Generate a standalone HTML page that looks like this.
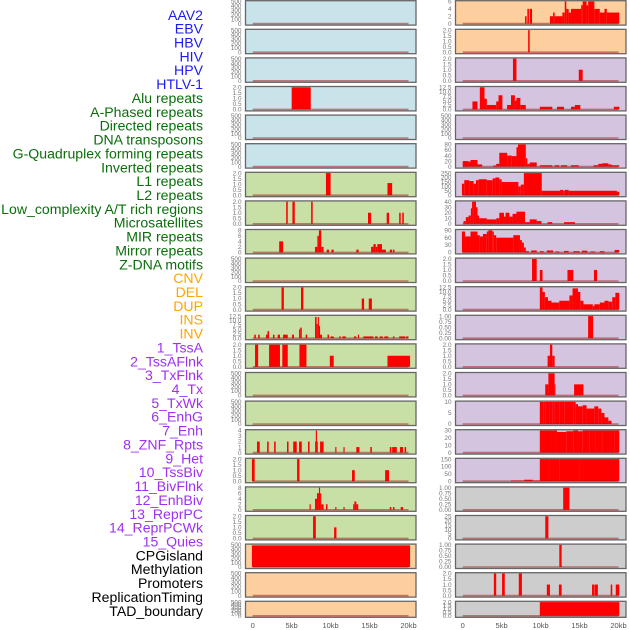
<!DOCTYPE html>
<html><head><meta charset="utf-8"><style>
body{margin:0;background:#fff;}
svg{display:block;font-family:"Liberation Sans",sans-serif;}
</style></head><body>
<svg id="chart" width="630" height="630" viewBox="0 0 630 630" xmlns="http://www.w3.org/2000/svg"></svg>
<script>
// ---------- labels ----------
const labelNames = ["AAV2","EBV","HBV","HIV","HPV","HTLV-1","Alu repeats","A-Phased repeats","Directed repeats","DNA transposons","G-Quadruplex forming repeats","Inverted repeats","L1 repeats","L2 repeats","Low_complexity A/T rich regions","Microsatellites","MIR repeats","Mirror repeats","Z-DNA motifs","CNV","DEL","DUP","INS","INV","1_TssA","2_TssAFlnk","3_TxFlnk","4_Tx","5_TxWk","6_EnhG","7_Enh","8_ZNF_Rpts","9_Het","10_TssBiv","11_BivFlnk","12_EnhBiv","13_ReprPC","14_ReprPCWk","15_Quies","CPGisland","Methylation","Promoters","ReplicationTiming","TAD_boundary"];
const labelGroups = [6,13,5,15,5];
const groupColors = ["#1c1cf0","#0b6e0b","#ffa500","#a030f0","#000000"];

// ---------- tick sets ----------
const T500 = [0,100,200,300,400,500];
const T2 = [0,0.5,1,1.5,2];
const T12 = [0,2.5,5,7.5,10,12.5];
const T1 = [0,0.25,0.5,0.75,1];
const T8 = [0,2,4,6,8];

// ---------- left column data [startKb, endKb, value] ----------
const L0=[],L1=[],L2=[],L4=[],L5=[],L9=[],L13=[],L14=[],L20=[],L21=[];
const L3=[[5.0,7.45,2]];
const L6=[[9.4,10.0,2],[17.3,17.9,1.1]];
const L7=[[4.3,4.5,2],[5.1,5.4,2],[7.5,7.7,2],[14.8,15.2,1],[17.2,17.5,1],[18.8,19.0,1],[19.2,19.4,1]];
const L8=[[3.4,3.9,4],[8.0,8.3,2],[8.3,8.5,6],[8.5,8.8,8],[8.8,9.1,2],[9.5,9.8,1],[10.1,10.4,1],[13.3,13.6,1],[15.2,15.5,2],[15.5,15.8,3],[15.8,16.0,2],[16.0,16.6,3],[16.6,17.1,1],[17.6,17.9,1],[18.0,18.2,1]];
const L10=[[3.7,4.0,2],[6.2,6.5,2],[14.0,14.3,1],[14.9,15.3,1]];
const L11=[[0.2,0.4,2],[0.7,0.9,2],[1.7,1.9,2],[1.9,2.1,4],[2.6,2.8,2],[3.2,3.5,2],[3.9,4.5,2],[5.05,5.3,2],[5.95,6.1,5],[6.1,6.3,6],[6.8,7.0,2],[8.0,8.2,12],[8.2,8.35,8],[8.35,8.5,12],[8.5,8.65,7],[8.65,8.9,2],[9.6,9.8,2],[10.0,10.4,1],[11.1,11.3,1],[11.5,11.95,1],[13.0,13.3,1],[13.5,13.65,2],[14.2,15.5,1],[15.7,16.05,1],[16.3,16.7,1],[16.9,17.4,1],[18.0,18.2,1],[18.8,19.6,1],[19.7,20.0,1]];
const L12=[[0.3,0.7,2],[2.1,3.5,2],[3.8,4.5,2],[6.0,6.9,2],[9.9,10.4,1],[17.3,20.2,1]];
const L15=[[0.55,0.9,2],[1.85,2.05,2],[2.75,2.95,2],[4.4,4.6,2],[5.2,5.65,2],[5.95,6.3,2],[7.1,7.3,2],[8.0,8.1,2],[8.1,8.25,4],[8.25,8.35,2],[8.65,9.1,2],[10.6,10.75,1],[11.65,11.8,1],[13.3,13.7,1],[15.1,15.3,1],[17.6,17.8,1],[17.9,18.5,1],[18.9,19.3,1],[19.5,19.7,1]];
const L16=[[-0.1,0.25,2],[5.7,6.0,2],[12.75,13.1,1],[17.0,17.5,1]];
const L17=[[7.3,7.45,2],[8.0,8.25,4],[8.25,8.5,6],[8.5,8.65,8],[8.65,8.8,6],[8.8,9.1,2],[9.4,9.6,2],[10.6,10.75,1],[11.65,11.8,1],[12.9,13.05,2],[13.05,13.3,3],[13.3,13.55,2],[17.6,17.8,1],[18.0,18.2,1],[19.0,19.3,1]];
const L18=[[7.75,8.1,2],[10.45,10.75,1]];
const L19=[[-0.1,20.2,490]];

// ---------- right column data ----------
const R4=[];
const R0=[[8.0,8.2,2],[8.3,8.5,4],[8.6,8.9,4],[11.2,11.6,2],[11.6,11.8,3],[11.8,12.8,2],[12.8,13.1,3],[13.1,13.3,6],[13.3,13.6,4],[13.6,13.9,3],[13.9,15.2,4],[15.2,15.4,5],[15.4,15.9,6],[15.9,16.1,5],[16.1,16.9,6],[16.9,17.6,4],[17.6,18.2,3],[18.2,18.5,4],[18.5,20.1,3]];
const R1=[[8.4,8.6,2]];
const R2=[[6.45,6.9,2],[14.9,15.4,1]];
const R3=[[1.25,1.9,4.5],[2.2,2.8,12.5],[2.8,3.1,6],[3.1,4.3,2.5],[4.3,4.6,4.5],[4.6,5.1,8],[5.7,6.2,2.5],[6.2,6.7,8],[6.7,6.9,5],[6.9,7.4,6.5],[7.4,8.1,2.5],[9.9,11.5,1.5],[12.1,13.0,1.5],[13.9,14.4,1.5],[14.4,15.1,2.5],[19.4,20.1,1.5]];
const R5=[[0,0.75,20],[0.75,1.0,18],[1.0,1.9,24],[1.9,2.5,8],[3.9,4.3,4],[4.3,4.7,10],[4.7,5.7,50],[5.7,6.3,40],[6.3,6.9,38],[6.9,7.1,70],[7.1,8.1,80],[8.1,8.3,30],[8.3,8.6,10],[8.6,9.5,15],[9.9,11.5,5],[11.8,12.4,5],[12.6,13.4,5],[13.9,14.9,5],[16.8,17.4,5],[17.4,17.9,10],[17.9,18.7,12],[18.7,19.1,8],[19.1,20.1,5]];
const R6=[[-0.1,0.2,130],[0.2,0.85,170],[0.85,1.4,160],[1.4,1.7,130],[1.7,2.05,170],[2.05,3.1,180],[3.1,3.85,170],[3.85,4.2,190],[4.2,4.7,200],[4.7,5.0,180],[5.0,7.15,150],[7.15,7.45,100],[7.45,7.85,120],[7.85,10.15,250],[10.15,12.5,50],[12.5,12.9,60],[12.9,13.1,50],[13.1,13.6,60],[13.6,19.8,50],[19.8,20.1,40]];
const R7=[[0.1,0.4,5],[0.4,0.75,12],[0.75,1.05,15],[1.05,1.2,28],[1.2,1.4,40],[1.4,1.7,42],[1.7,1.9,30],[1.9,2.1,15],[2.1,3.1,10],[3.1,4.3,8],[4.3,4.7,10],[4.7,5.3,20],[5.3,5.5,13],[5.5,6.0,20],[6.0,6.4,13],[6.4,6.9,18],[6.9,8.0,22],[8.0,8.6,3],[8.6,9.5,8],[9.5,10.1,5],[10.9,11.5,3],[13.0,14.4,3]];
const R8=[[-0.1,0.3,85],[0.3,1.0,65],[1.0,1.9,85],[1.9,2.2,70],[2.2,2.6,65],[2.6,3.1,75],[3.1,3.3,85],[3.3,3.8,95],[3.8,4.0,85],[4.0,4.3,70],[4.3,6.5,60],[6.5,7.35,70],[7.35,7.6,50],[7.6,7.85,40],[7.85,8.1,20],[8.1,8.5,5],[8.8,9.5,8],[9.9,10.4,5],[10.8,11.6,8],[11.9,12.4,4],[13.0,13.6,6],[14.2,15.0,5],[15.3,16.0,7],[16.4,17.0,4],[17.6,18.2,5],[19.5,20.1,10]];
const R9=[[8.9,9.5,2],[9.9,10.25,1],[13.45,14.2,1],[16.85,17.25,1]];
const R10=[[9.9,10.25,12.5],[10.25,10.55,10],[10.55,10.95,7],[10.95,11.4,5],[11.4,12.4,4],[12.4,13.7,5],[13.7,14.1,8],[14.1,14.8,12],[14.8,15.1,10],[15.1,15.5,5],[15.5,16.7,3],[16.7,16.9,2],[16.9,17.6,3],[17.6,18.2,4],[18.2,18.7,5],[18.7,19.2,4.5],[19.2,19.6,7],[19.6,20.1,9.5]];
const R11=[[16.1,16.75,1]];
const R12=[[10.9,11.2,1],[11.2,11.5,2],[11.5,11.8,1]];
const R13=[[10.6,11.0,1],[11.0,11.8,2],[11.8,11.9,1],[14.3,15.5,1]];
const R14=[[9.9,10.4,11],[10.4,10.6,12],[10.6,11.2,13],[11.2,11.5,10],[11.5,11.8,12],[11.8,12.4,13],[12.4,13.1,12],[13.1,14.2,10],[14.2,14.5,11],[14.5,14.8,9],[14.8,15.4,8],[15.4,15.9,8.5],[15.9,16.9,7],[16.9,17.4,8],[17.4,17.8,7],[17.8,18.2,5],[18.2,18.7,3],[18.7,19.1,1.5]];
const R15=[[9.9,10.5,33],[10.5,10.95,30],[10.95,12.1,31],[12.1,13.3,28],[13.3,14.2,29],[14.2,14.8,30],[14.8,15.4,29],[15.4,16.3,32],[16.3,17.1,33],[17.1,18.0,32],[18.0,19.5,33],[19.5,20.1,30]];
const R16=[[6.2,7.9,5],[7.9,9.0,10],[9.0,9.9,5],[9.9,11.2,160],[11.2,12.4,165],[12.4,15.0,165],[15.0,20.1,175]];
const R17=[[12.9,13.7,1]];
const R18=[[10.6,11.0,25]];
const R19=[[12.4,12.7,1]];
const R20=[[4.0,4.3,2],[5.05,5.4,2],[7.2,7.6,2],[10.8,11.2,1],[12.35,12.7,1],[16.6,16.85,1],[16.9,17.35,1],[19.0,19.2,1],[19.65,20.1,1]];
const R21=[[9.9,20.1,2]];

const leftSeries=[L0,L1,L2,L3,L4,L5,L6,L7,L8,L9,L10,L11,L12,L13,L14,L15,L16,L17,L18,L19,L20,L21];
const leftTicks=[T500,T500,T500,T2,T500,T500,T2,T2,T8,T500,T2,T12,T2,T500,T500,[0,1,2,3,4],T2,T8,T2,T500,T500,T500];
const rightSeries=[R0,R1,R2,R3,R4,R5,R6,R7,R8,R9,R10,R11,R12,R13,R14,R15,R16,R17,R18,R19,R20,R21];
const rightTicks=[[0,2,4,6],T2,T2,T12,T500,[0,20,40,60,80],[0,50,100,150,200,250],[0,10,20,30,40],[0,30,60,90],T2,T12,T1,T2,T2,[0,5,10],[0,10,20,30],[0,50,100,150],T1,[0,5,10,15,20,25],T1,T2,T2];
const xTickValues=[0,5,10,15,20];
const xTickLabels=["0","5kb","10kb","15kb","20kb"];

const NS="http://www.w3.org/2000/svg";
const svg=document.getElementById('chart');
function mk(tag,attrs,parent){const e=document.createElementNS(NS,tag);for(const k in attrs)e.setAttribute(k,attrs[k]);(parent||svg).appendChild(e);return e;}

// labels
let li=0;
labelGroups.forEach((n,g)=>{for(let j=0;j<n;j++){const t=mk('text',{x:203,y:(19.8+li*13.86).toFixed(1),'text-anchor':'end','font-size':14.1,fill:groupColors[g]});


t.textContent=labelNames[li];li++;}});

function rowTop(i){return 0.7+28.6*i;}
function rowH(i){return i===21?16:24.4;}
function leftColor(i){return i<6?"#c8e3ea":(i<19?"#c8e0a5":"#fdcf9e");}
function rightColor(i){return i<2?"#fdcf9e":(i<17?"#d5c4e0":"#cdcdcd");}
function fmt(v,ticks){const step=ticks[1]-ticks[0];if(step<0.5&&step!==Math.round(step))return v.toFixed(2);if(step!==Math.round(step)||ticks.some(t=>t!==Math.round(t)))return v.toFixed(1);return String(v);}

function drawPanel(col,i,data,ticks){
  const px=col===0?245.5:455.5, pw=170.5, x0=col===0?252.7:462.7, kbW=155.8/20;
  const top=rowTop(i), h=rowH(i);
  const g=mk('g',{});
  
  
  mk('rect',{x:px,y:top,width:pw,height:h,fill:col===0?leftColor(i):rightColor(i),stroke:'#666','stroke-width':1.3},g);
  const ymax=ticks[ticks.length-1];
  const yb=top+h-1.5, yt=top+0.8;
  const ys=v=>yb-(v/ymax)*(yb-yt);
  const xs=k=>x0+k*kbW;
  data.forEach(d=>{const r=mk('rect',{x:xs(d[0]).toFixed(2),y:ys(Math.min(d[2],ymax)).toFixed(2),width:Math.max(0.8,xs(d[1])-xs(d[0])).toFixed(2),height:(yb-ys(Math.min(d[2],ymax))).toFixed(2),fill:'#ff0000'},g);
    
    });
  const base=mk('line',{x1:xs(0),x2:xs(20),y1:yb,y2:yb,stroke:'rgba(160,20,20,0.5)','stroke-width':1.6},g);
  
  
  ticks.forEach(t=>{const tx=mk('text',{x:px-4,y:(ys(t)+2.2).toFixed(1),'text-anchor':'end','font-size':6.4,fill:'#777'},g);
    
    
    tx.textContent=fmt(t,ticks);});
}
for(let i=0;i<22;i++){drawPanel(0,i,leftSeries[i],leftTicks[i]);drawPanel(1,i,rightSeries[i],rightTicks[i]);}

[252.7,462.7].forEach((x0,c)=>{xTickValues.forEach((v,k)=>{const t=mk('text',{x:(x0+v*155.8/20).toFixed(1),y:628,'text-anchor':'middle','font-size':7.5,fill:'#555'});
  
  
  t.textContent=xTickLabels[k];});});
</script>
</body></html>
